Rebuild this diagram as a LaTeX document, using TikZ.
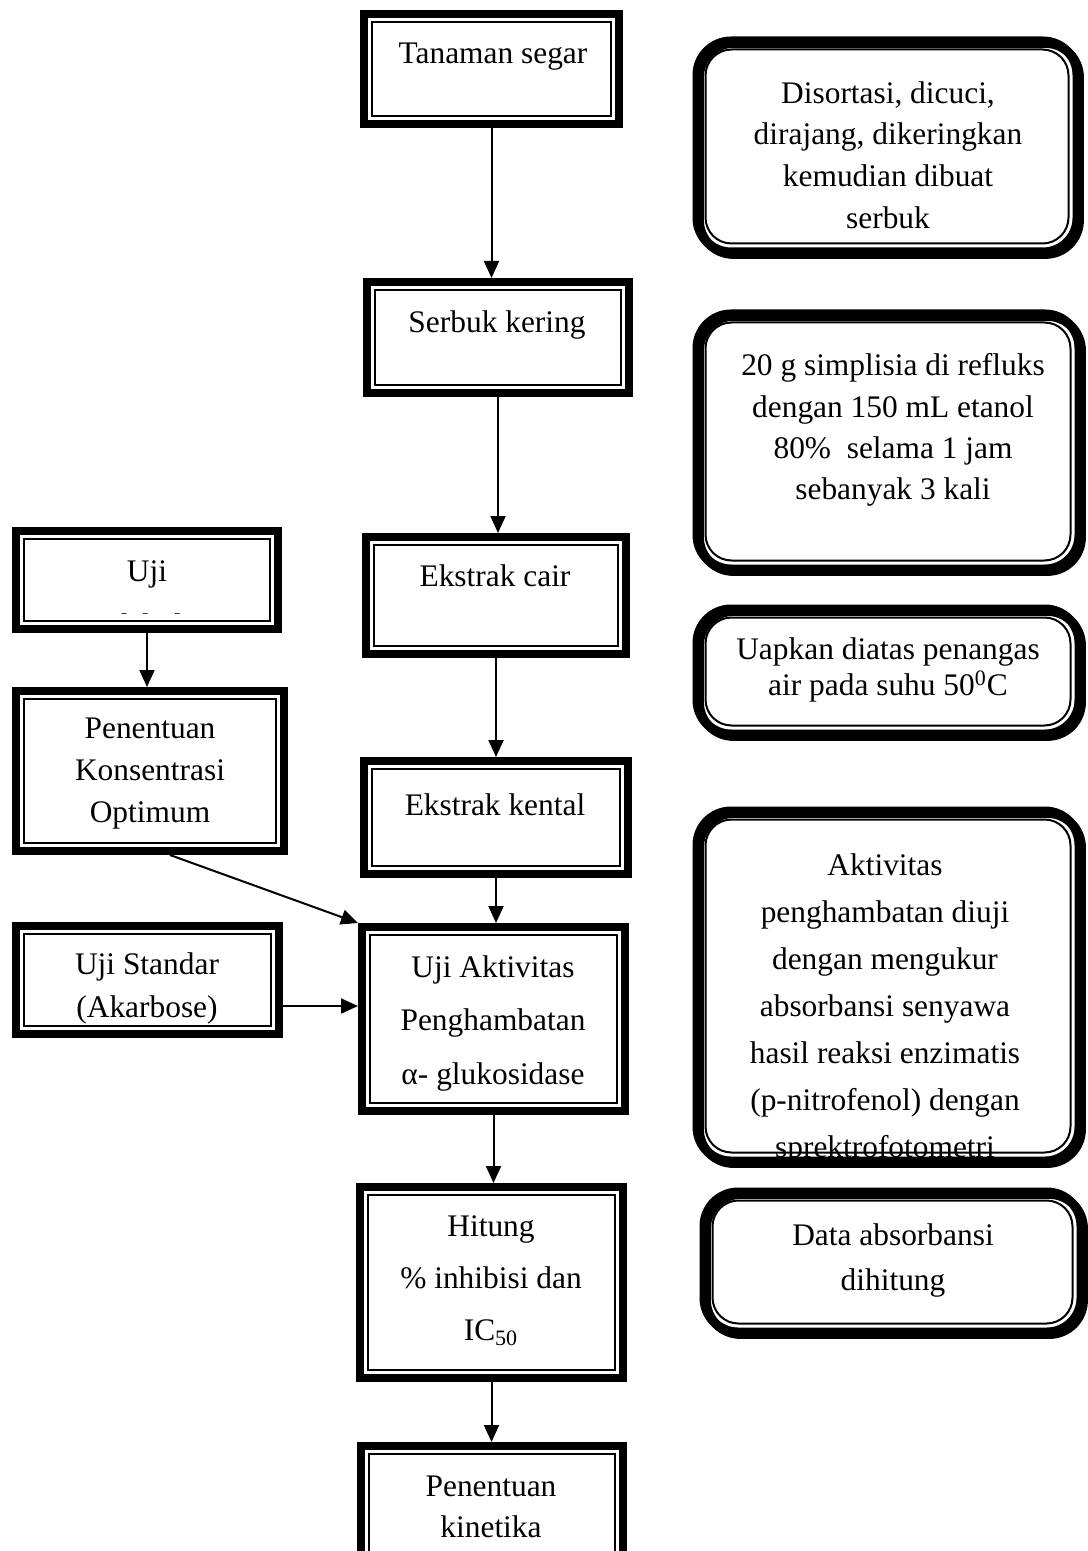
\documentclass[tikz,border=0pt]{standalone}
\usepackage{fontspec}
\setmainfont{Liberation Serif}
\usepackage{tikz}
\usetikzlibrary{arrows.meta,calc,fit}

\newcommand{\fsz}[1]{\fontsize{15.7}{#1}\selectfont}

\tikzset{
  dblbox/.style={draw, line width=4pt, inner sep=0pt,
    append after command={\pgfextra{\draw[line width=1.2pt]
      ($(\tikzlastnode.north west)+(12,12)$) rectangle ($(\tikzlastnode.south east)+(-12,-12)$);}}},
  rndbox/.style={draw, line width=4.5pt, inner sep=0pt, rounded corners=17pt,
    preaction={draw, line width=4.5pt, transform canvas={shift={(1.2pt,-1.2pt)}}},
    append after command={\pgfextra{\draw[line width=1pt, rounded corners=13pt]
      ($(\tikzlastnode.north west)+(13,13)$) rectangle ($(\tikzlastnode.south east)+(-13,-13)$);}}},
  txt/.style={align=center, inner sep=0pt, font=\fsz{21}},
  arr/.style={line width=1pt, -{Triangle[width=7.5pt,length=8.5pt]}}
}

\begin{document}
\begin{tikzpicture}[x=0.5pt,y=0.5pt,yscale=-1,xscale=1]
\useasboundingbox (0,0) rectangle (1087,1551);

%Main column
\node [dblbox, fit={(364,14) (619,124)}] (tanaman) {};
\node [dblbox, fit={(367,282) (629,393)}] (serbuk) {};
\node [dblbox, fit={(366,537) (626,654)}] (cair) {};
\node [dblbox, fit={(364,761) (628,874)}] (kental) {};
\node [dblbox, fit={(362,927) (625,1111)}] (aktivitas) {};
\node [dblbox, fit={(360,1187) (623,1378)}] (hitung) {};
\node [dblbox, fit={(361,1446) (623,1560)}] (kinetika) {};

%Left column
\node [dblbox, fit={(16,531) (278,629)}] (uji) {};
\node [dblbox, fit={(16,691) (284,851)}] (konsentrasi) {};
\node [dblbox, fit={(16,926) (279,1034)}] (standar) {};

%Right column
\node [rndbox, fit={(697,41) (1077,252)}] (disortasi) {};
\node [rndbox, fit={(697,314) (1079,569)}] (refluks) {};
\node [rndbox, fit={(697,609) (1079,734)}] (uapkan) {};
\node [rndbox, fit={(697,811) (1079,1161)}] (penghambatan) {};
\node [rndbox, fit={(704,1192) (1081,1332)}] (absorbansi) {};

% Text Node
\node [txt] (tanamanT) at (493,57) {Tanaman segar};
% Text Node
\node [txt] (serbukT) at (497,325) {Serbuk kering};
% Text Node
\node [txt] (cairT) at (495,576) {Ekstrak cair};
% Text Node
\node [txt] (kentalT) at (495,805) {Ekstrak kental};
% Text Node
\node [txt, font=\fsz{26.75}] (aktivitasT) at (493,1023) {Uji Aktivitas\\Penghambatan\\α- glukosidase};
% Text Node
\node [txt, font=\fsz{26}] (hitungT) at (491,1281) {Hitung\\\% inhibisi dan\\IC\textsubscript{50}};
% Text Node
\node [txt, font=\fsz{20.5}] (kinetikaT) at (491,1507) {Penentuan\\kinetika};

% Text Node (second line cut by the box)
\begin{scope}
\clip (30,540) rectangle (270,613);
\node [txt, font=\fsz{27}] (ujiT) at (147,598) {Uji\\Pendahuluan};
\end{scope}
% Text Node
\node [txt] (konsentrasiT) at (150,774) {Penentuan\\Konsentrasi\\Optimum};
% Text Node
\node [txt, font=\fsz{21.5}] (standarT) at (147,988) {Uji Standar\\(Akarbose)};

% Text Node
\node [txt, font=\fsz{20.8}] (disortasiT) at (888,155) {Disortasi, dicuci,\\dirajang, dikeringkan\\kemudian dibuat\\serbuk};
% Text Node
\node [txt, font=\fsz{20.6}] (refluksT) at (893,430) {20 g simplisia di refluks\\dengan 150 mL etanol\\80\%\ \ selama 1 jam\\sebanyak 3 kali};
% Text Node
\node [txt, font=\fsz{18}] (uapkanT) at (888,670) {Uapkan diatas penangas\\air pada suhu 50\textsuperscript{0}C};
% Text Node (last line cut by the box)
\begin{scope}
\clip (700,815) rectangle (1080,1158);
\node [txt, font=\fsz{23.5}] (penghambatanT) at (885,1009) {Aktivitas\\penghambatan diuji\\dengan mengukur\\absorbansi senyawa\\hasil reaksi enzimatis\\(p-nitrofenol) dengan\\sprektrofotometri};
\end{scope}
% Text Node
\node [txt, font=\fsz{22.5}] (absorbansiT) at (893,1260) {Data absorbansi\\dihitung};

%Arrows
\draw [arr] (tanaman.south) -- (tanaman.south |- serbuk.north);
\draw [arr] (serbuk.south) -- (serbuk.south |- cair.north);
\draw [arr] (cair.south) -- (cair.south |- kental.north);
\draw [arr] (kental.south) -- (kental.south |- aktivitas.north);
\draw [arr] (aktivitas.south) -- (aktivitas.south |- hitung.north);
\draw [arr] (hitung.south) -- (hitung.south |- kinetika.north);
\draw [arr] (uji.south) -- (uji.south |- konsentrasi.north);
\draw [arr] ($(konsentrasi.south)+(20,0)$) -- (aktivitas.north west);
\coordinate (standarOut) at ($(standar.east)+(0,26)$);
\draw [arr] (standarOut) -- (standarOut -| aktivitas.west);

\end{tikzpicture}
\end{document}
